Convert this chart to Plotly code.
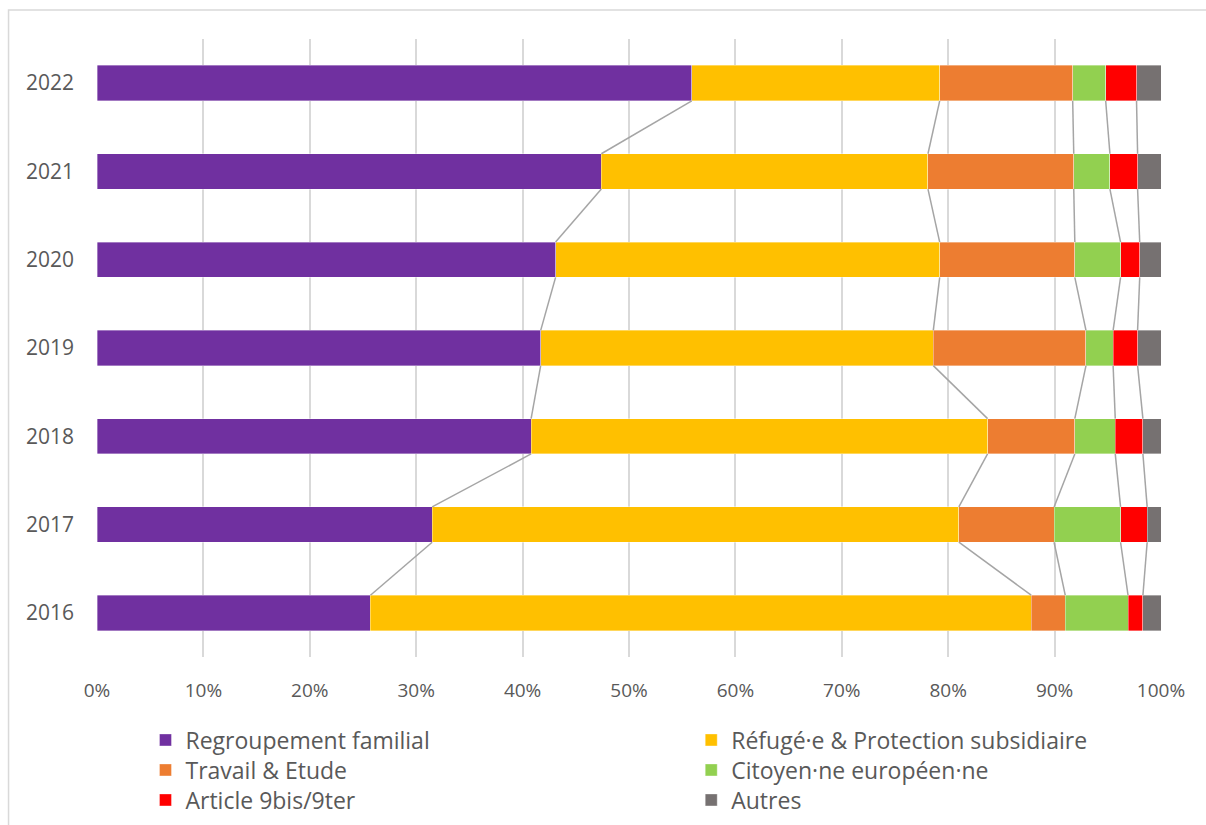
import plotly.graph_objects as go

years = ["2016", "2017", "2018", "2019", "2020", "2021", "2022"]
series_names = ["Regroupement familial", "Réfugé·e & Protection subsidiaire", "Travail & Etude",
                "Citoyen·ne européen·ne", "Article 9bis/9ter", "Autres"]
regroupement = [25.7, 31.5, 40.8, 41.7, 43.1, 47.4, 55.9]
refugie = [62.1, 49.5, 42.9, 36.9, 36.1, 30.7, 23.3]
travail = [3.2, 8.95, 8.2, 14.35, 12.7, 13.7, 12.5]
citoyen = [5.9, 6.25, 3.8, 2.55, 4.3, 3.4, 3.1]
article = [1.4, 2.5, 2.6, 2.3, 1.8, 2.6, 2.9]
autres = [1.7, 1.3, 1.7, 2.2, 2.0, 2.2, 2.3]
colors = ["#7030A0", "#FFC000", "#ED7D31", "#92D050", "#FF0000", "#767171"]
x_ticks = [0, 10, 20, 30, 40, 50, 60, 70, 80, 90, 100]

data = [regroupement, refugie, travail, citoyen, article, autres]
# normalise each year to 100
totals = [sum(d[i] for d in data) for i in range(len(years))]
data = [[v / totals[i] * 100 for i, v in enumerate(d)] for d in data]

ypos = list(range(len(years)))
bw = 0.4

W, H = 1206, 825
ml, mr, mt, mb = 96.5, 45, 39, 168
pw = W - ml - mr
ph = H - mt - mb


def px_x(x):
    return (x - ml) / pw


def px_y(y):
    return (H - mb - y) / ph


# legend layout: 2 columns x 3 rows
leg_x = [145, 691, 145, 691, 145, 691]
leg_y = [740, 740, 770, 770, 800, 800]
leg_ids = ["legend", "legend2", "legend3", "legend4", "legend5", "legend6"]

fig = go.Figure()
for k, (name, vals, col) in enumerate(zip(series_names, data, colors)):
    fig.add_trace(go.Bar(
        y=ypos, x=vals, name=name, orientation="h", width=bw,
        marker=dict(color=col, line=dict(width=0.6, color="rgba(255,255,255,0.6)")),
        legend=leg_ids[k],
    ))

# series lines
cum = [0.0] * len(years)
for k in range(len(data) - 1):
    cum = [c + v for c, v in zip(cum, data[k])]
    xs, ys = [], []
    for i in range(len(years) - 1):
        xs += [cum[i], cum[i + 1], None]
        ys += [ypos[i] + bw / 2, ypos[i + 1] - bw / 2, None]
    fig.add_trace(go.Scatter(x=xs, y=ys, mode="lines", line=dict(color="#A5A5A5", width=1.5),
                             showlegend=False, hoverinfo="skip"))

font_family = "'Open Sans', Lato, sans-serif"
leg_common = dict(orientation="h", xanchor="left", yanchor="middle",
                  font=dict(size=23, color="#595959", family=font_family),
                  bgcolor="rgba(0,0,0,0)", itemwidth=30)

legend_layout = {}
for lid, lx, ly in zip(leg_ids, leg_x, leg_y):
    legend_layout[lid] = dict(x=px_x(lx), y=px_y(ly), **leg_common)

fig.update_layout(
    width=W, height=H,
    margin=dict(l=ml, r=mr, t=mt, b=mb, autoexpand=False),
    barmode="stack",
    plot_bgcolor="white", paper_bgcolor="white",
    font=dict(family=font_family, color="#595959", size=19),
    xaxis=dict(range=[0, 100], tickvals=x_ticks, ticktext=[f"{t}%" for t in x_ticks],
               showgrid=True, gridcolor="#D9D9D9", gridwidth=1.5, zeroline=False,
               showline=False, ticks="", ticklabelstandoff=20,
               tickfont=dict(size=19, color="#595959")),
    yaxis=dict(range=[-0.5, 6.5], tickvals=ypos, ticktext=years, showgrid=False,
               zeroline=False, showline=False, ticks="", ticklabelstandoff=22,
               tickfont=dict(size=21, color="#595959")),
    shapes=[dict(type="rect", xref="paper", yref="paper",
                 x0=px_x(8), x1=px_x(1215), y0=px_y(835), y1=px_y(10),
                 line=dict(color="#D9D9D9", width=1.5), fillcolor="rgba(0,0,0,0)")],
    **legend_layout,
)

fig.write_html("out.html")
